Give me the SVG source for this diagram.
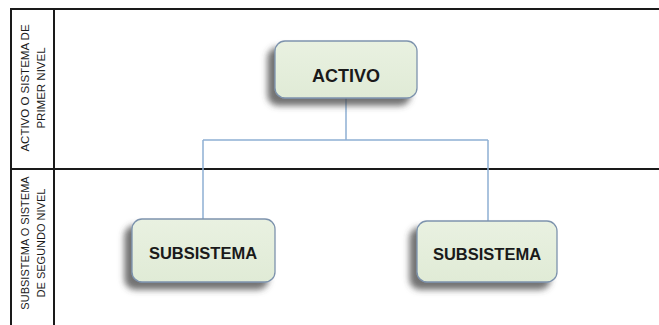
<svg xmlns="http://www.w3.org/2000/svg" width="659" height="325" viewBox="0 0 659 325">
<style>
.grid{stroke:#1a1a1a;stroke-width:2;fill:none}
.box{fill:url(#g);stroke:#7d93ad;stroke-width:1.3;filter:url(#sh)}
.lbl{font-family:"Liberation Sans",Arial,sans-serif;font-weight:bold;fill:#1a1a1a;text-anchor:middle}
.side{font-family:"Liberation Sans",Arial,sans-serif;font-size:11.5px;fill:#1a1a1a;text-anchor:middle}
.con{stroke:#8fb0d4;stroke-width:1.5;fill:none}
</style>
<defs>
<linearGradient id="g" x1="0" y1="0" x2="0" y2="1">
<stop offset="0" stop-color="#e9f1e1"/>
<stop offset="1" stop-color="#e0ebd6"/>
</linearGradient>
<filter id="sh" x="-20%" y="-20%" width="140%" height="150%">
<feDropShadow dx="-7" dy="7" stdDeviation="3" flood-color="#444" flood-opacity="0.75"/>
</filter>
</defs>
<g id="table">
<line class="grid" x1="10" y1="9" x2="659" y2="9"/>
<line class="grid" x1="10" y1="169" x2="659" y2="169"/>
<line class="grid" x1="11" y1="8" x2="11" y2="325"/>
<line class="grid" x1="54" y1="8" x2="54" y2="325"/>
<text class="side" transform="translate(29,88) rotate(-90)">ACTIVO O SISTEMA DE</text>
<text class="side" transform="translate(45,88) rotate(-90)">PRIMER NIVEL</text>
<text class="side" font-size="11" style="font-size:11px" transform="translate(29,243) rotate(-90)">SUBSISTEMA O SISTEMA</text>
<text class="side" style="font-size:11px" transform="translate(45,243) rotate(-90)">DE SEGUNDO NIVEL</text>
</g>
<g id="connectors">
<path class="con" d="M346,98 V140 M203,140 H488 M203,140 V219 M488,140 V221"/>
</g>
<g id="activo">
<rect class="box" x="275" y="41" width="142" height="57" rx="10"/>
<text class="lbl" x="346" y="82" font-size="18">ACTIVO</text>
</g>
<g id="subsistema1">
<rect class="box" x="132" y="219" width="143" height="63" rx="10"/>
<text class="lbl" x="203" y="259" font-size="16.5">SUBSISTEMA</text>
</g>
<g id="subsistema2">
<rect class="box" x="417" y="221" width="140" height="61" rx="10"/>
<text class="lbl" x="487" y="260" font-size="16.5">SUBSISTEMA</text>
</g>
</svg>
